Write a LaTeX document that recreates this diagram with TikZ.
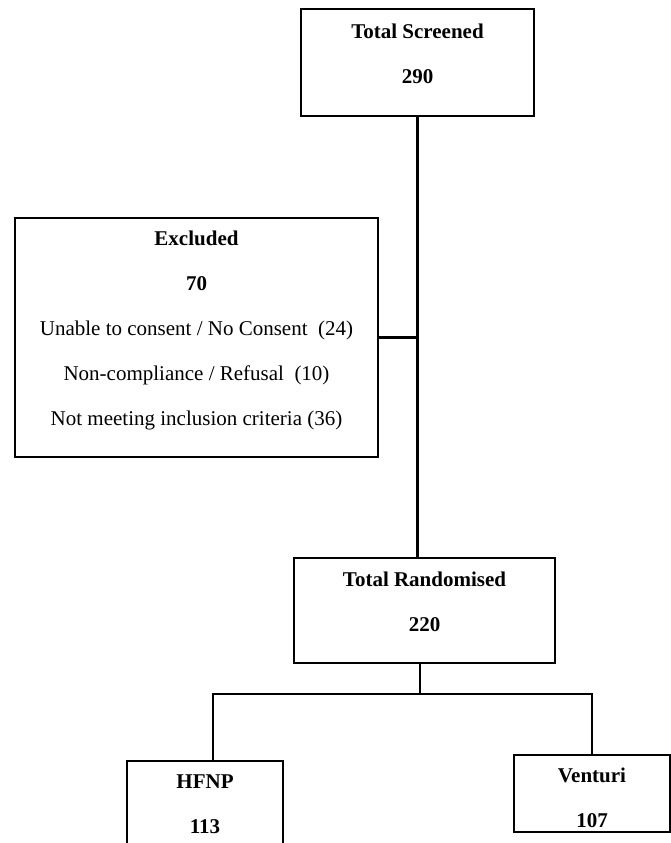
\documentclass[tikz,border=0pt]{standalone}
\usepackage{fontspec}
\setmainfont{Liberation Serif}
\begin{document}
\begin{tikzpicture}[x=1pt,y=-1pt]
\tikzstyle{every node}=[font=\fontsize{21}{45}\selectfont]
\tikzstyle{box}=[draw, line width=2.7pt, align=center, inner sep=0pt, text depth=18pt]
\tikzstyle{link}=[line width=2.7pt]
	\useasboundingbox (0,0) rectangle (671,843);

	\node[box, minimum width=233, minimum height=107] (screened) at (417.5,62.5) {\textbf{Total Screened}\\\textbf{290}};
	\node[box, minimum width=363, minimum height=239] (excluded) at (196.5,337.5) {\textbf{Excluded}\\\textbf{70}\\Unable to consent / No Consent~ (24)\\Non-compliance / Refusal~ (10)\\Not meeting inclusion criteria (36)};
	\node[box, minimum width=261, minimum height=105] (randomised) at (424.5,610.5) {\textbf{Total Randomised}\\\textbf{220}};
	\node[box, minimum width=156, minimum height=105] (hfnp) at (205,813.5) {\textbf{HFNP}\\\textbf{113}};
	\node[box, minimum width=156, minimum height=77, text height=68pt, text depth=0pt] (venturi) at (592,793.5) {\textbf{Venturi}\\\textbf{107}};

	\draw[link] (screened.south) -- (screened.south |- randomised.north);
	\draw[link] (excluded.east) -- (excluded.east -| screened.south);

	\coordinate (split) at (420,694);
	\draw[link] (randomised.south -| split) -- (split);
	\draw[link] ([xshift=8pt]hfnp.north) |- (split) -| (venturi.north);
\end{tikzpicture}
\end{document}
